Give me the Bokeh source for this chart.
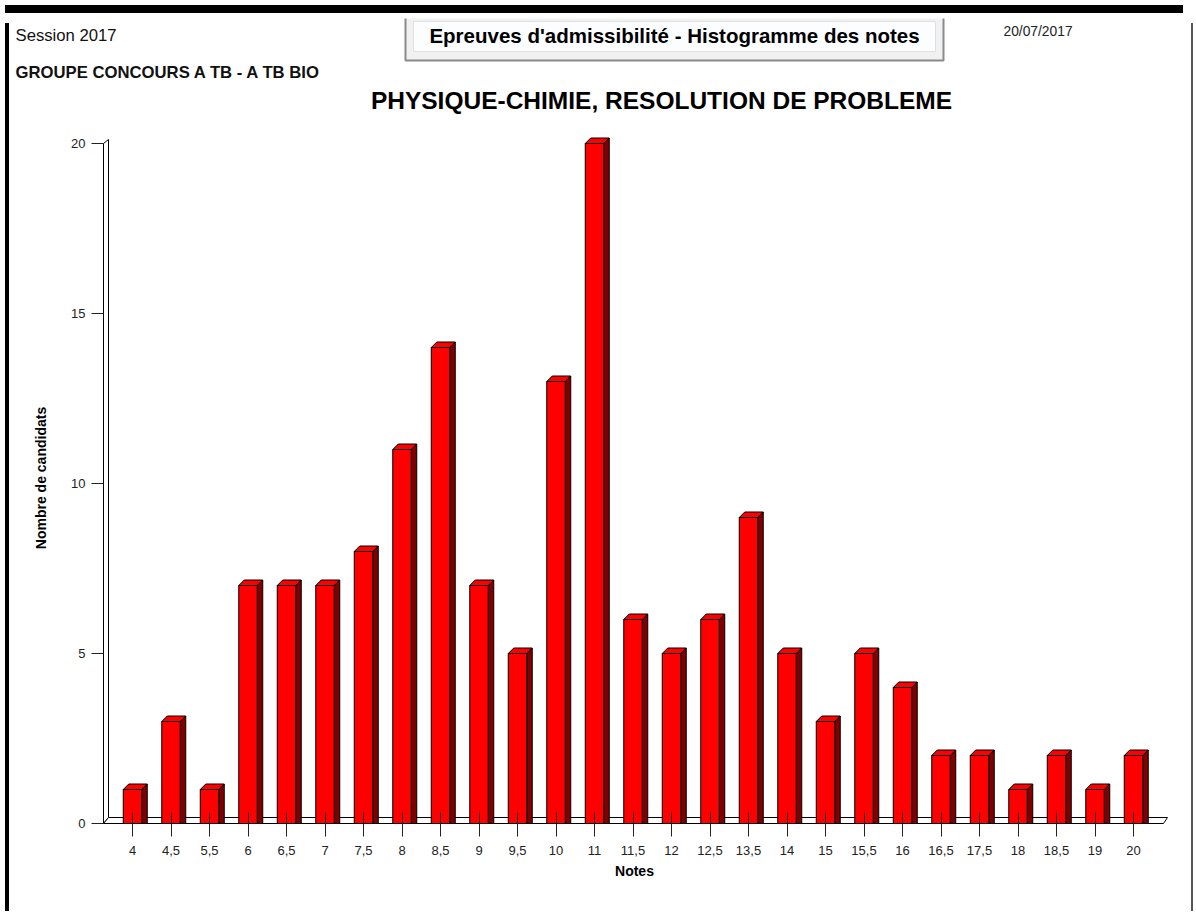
from bokeh.plotting import figure
from bokeh.models import FixedTicker, Range1d, Div, ColumnDataSource
from bokeh.layouts import column, row
from bokeh.core.properties import value
from bokeh.embed import file_html
from bokeh.resources import INLINE

# ---- data ----
notes = ["4", "4,5", "5,5", "6", "6,5", "7", "7,5", "8", "8,5", "9", "9,5", "10", "11",
         "11,5", "12", "12,5", "13,5", "14", "15", "15,5", "16", "16,5", "17,5", "18",
         "18,5", "19", "20"]
counts = [1, 3, 1, 7, 7, 7, 8, 11, 14, 7, 5, 13, 20, 6, 5, 6, 9, 5, 3, 5, 4, 2, 2, 1, 2, 1, 2]
y_ticks = [0, 5, 10, 15, 20]

session_text = "Session 2017"
group_text = "GROUPE CONCOURS A TB - A TB BIO"
date_text = "20/07/2017"
box_title = "Epreuves d'admissibilité - Histogramme des notes"
main_title = "PHYSIQUE-CHIMIE, RESOLUTION DE PROBLEME"

FONT = "Liberation Sans"
n = len(notes)
idx = list(range(n))

# ---- layout (pixels) ----
FRAME_W, FRAME_H = 1072, 705
MB_L, MB_R, MB_B = 84, 16, 76
FIG_W = MB_L + FRAME_W + MB_R
HEAD_H = 107
PXX, PXY = 38.5, 34.0
x0 = -34 / PXX
y0 = -7 / PXY

# ---- header figure (coordinates = page pixels) ----
HX0, HY0 = 14, 18
h = figure(width=FIG_W, height=HEAD_H, x_range=Range1d(HX0, HX0 + FIG_W),
           y_range=Range1d(HY0 + HEAD_H, HY0), x_axis_type=None, y_axis_type=None,
           min_border=0, output_backend="svg", toolbar_location=None, tools="")
h.outline_line_color = None
h.grid.visible = False
h.background_fill_color = "white"
h.border_fill_color = "white"

h.quad(left=405, right=943, top=16, bottom=60, fill_color="#f1f1f1",
       line_color="#8a8a8a", line_width=2)
h.quad(left=413, right=935, top=21, bottom=51, fill_color="#fcfdff",
       line_color="#e0e0e0", line_width=1)


def htext(x, y, t, size, bold=False, align="left", color="#111"):
    h.text(x=[x], y=[y], text=[t], text_font=value(FONT), text_font_size=size,
           text_font_style="bold" if bold else "normal", text_align=align,
           text_baseline="middle", text_color=color)


htext(15, 35, session_text, "16.7px")
htext(15, 72, group_text, "16.7px", bold=True)
htext(1003, 31, date_text, "13.8px", color="#222")
htext(674, 35, box_title, "20.5px", bold=True, align="center", color="black")
htext(661, 100, main_title, "24.5px", bold=True, align="center", color="black")

# ---- main figure ----
p = figure(frame_width=FRAME_W, frame_height=FRAME_H,
           min_border_left=MB_L, min_border_right=MB_R, min_border_top=0, min_border_bottom=MB_B,
           x_range=Range1d(x0, x0 + FRAME_W / PXX), y_range=Range1d(y0, y0 + FRAME_H / PXY),
           output_backend="svg", toolbar_location=None, tools="")
p.outline_line_color = None
p.grid.visible = False
p.background_fill_color = "white"
p.border_fill_color = "white"

# 3D wall & floor
ymax = max(y_ticks)
xw = -29 / PXX
dxw = 5 / PXX
dyw = 4 / PXY
dyf = 6 / PXY
xf = (n - 1) + 30 / PXX
dxf = 4 / PXX
p.patch([xw, xw, xw + dxw, xw + dxw], [0, ymax, ymax + dyw, dyf],
        fill_color="white", line_color="black", line_width=1)
p.patch([xw, xf, xf + dxf, xw + dxw], [0, 0, dyf, dyf],
        fill_color="white", line_color="black", line_width=1)

# 3D bars
hw = 9.25 / PXX
dx = 5.5 / PXX
dy = 5.5 / PXY
side_xs = [[i + hw, i + hw + dx, i + hw + dx, i + hw] for i in idx]
side_ys = [[0, 0, c + dy, c] for c in counts]
top_xs = [[i - hw, i - hw + dx, i + hw + dx, i + hw] for i in idx]
top_ys = [[c, c + dy, c + dy, c] for c in counts]
p.patches(side_xs, side_ys, fill_color="#800000", line_color="black", line_width=1)
p.patches(top_xs, top_ys, fill_color="#FF0000", line_color="black", line_width=1)
src = ColumnDataSource(dict(x=idx, top=counts))
p.vbar(x="x", top="top", bottom=0, width=2 * hw, source=src,
       fill_color="#FF0000", line_color="black", line_width=1)

# axes
xa = p.xaxis[0]
xa.ticker = FixedTicker(ticks=idx)
xa.major_label_overrides = {i: s for i, s in zip(idx, notes)}
xa.axis_line_color = None
xa.major_tick_in = 18
xa.major_tick_out = 6
xa.major_tick_line_color = "#222"
xa.minor_tick_line_color = None
xa.major_label_standoff = 9
xa.major_label_text_font = FONT
xa.major_label_text_font_size = "13px"
xa.major_label_text_color = "#222"
xa.axis_label = "Notes"
xa.axis_label_text_font = FONT
xa.axis_label_text_font_size = "14px"
xa.axis_label_text_font_style = "bold"
xa.axis_label_text_color = "black"
xa.axis_label_standoff = 5

ya = p.yaxis[0]
ya.ticker = FixedTicker(ticks=y_ticks)
ya.axis_line_color = None
ya.major_tick_in = 5
ya.major_tick_out = 7
ya.major_tick_line_color = "#222"
ya.minor_tick_line_color = None
ya.major_label_standoff = 6
ya.major_label_text_font = FONT
ya.major_label_text_font_size = "13px"
ya.major_label_text_color = "#222"
ya.axis_label = "Nombre de candidats"
ya.axis_label_text_font = FONT
ya.axis_label_text_font_size = "14px"
ya.axis_label_text_font_style = "bold"
ya.axis_label_text_color = "black"
ya.axis_label_standoff = 19

# ---- page frame ----
main_h = FRAME_H + MB_B
total_w = 4 + FIG_W + 2
total_h = HEAD_H + main_h


def bar(w, hh, color):
    return Div(width=w, height=hh, styles={"background-color": color})


top_bar = bar(total_w, 8, "black")
inner = column(row(h, spacing=0), p, spacing=0)
body = row(bar(4, total_h, "black"), inner, bar(2, total_h, "#555555"), spacing=0)
layout = column(top_bar, body, spacing=0)

open("out.html", "w").write(file_html(layout, INLINE))
